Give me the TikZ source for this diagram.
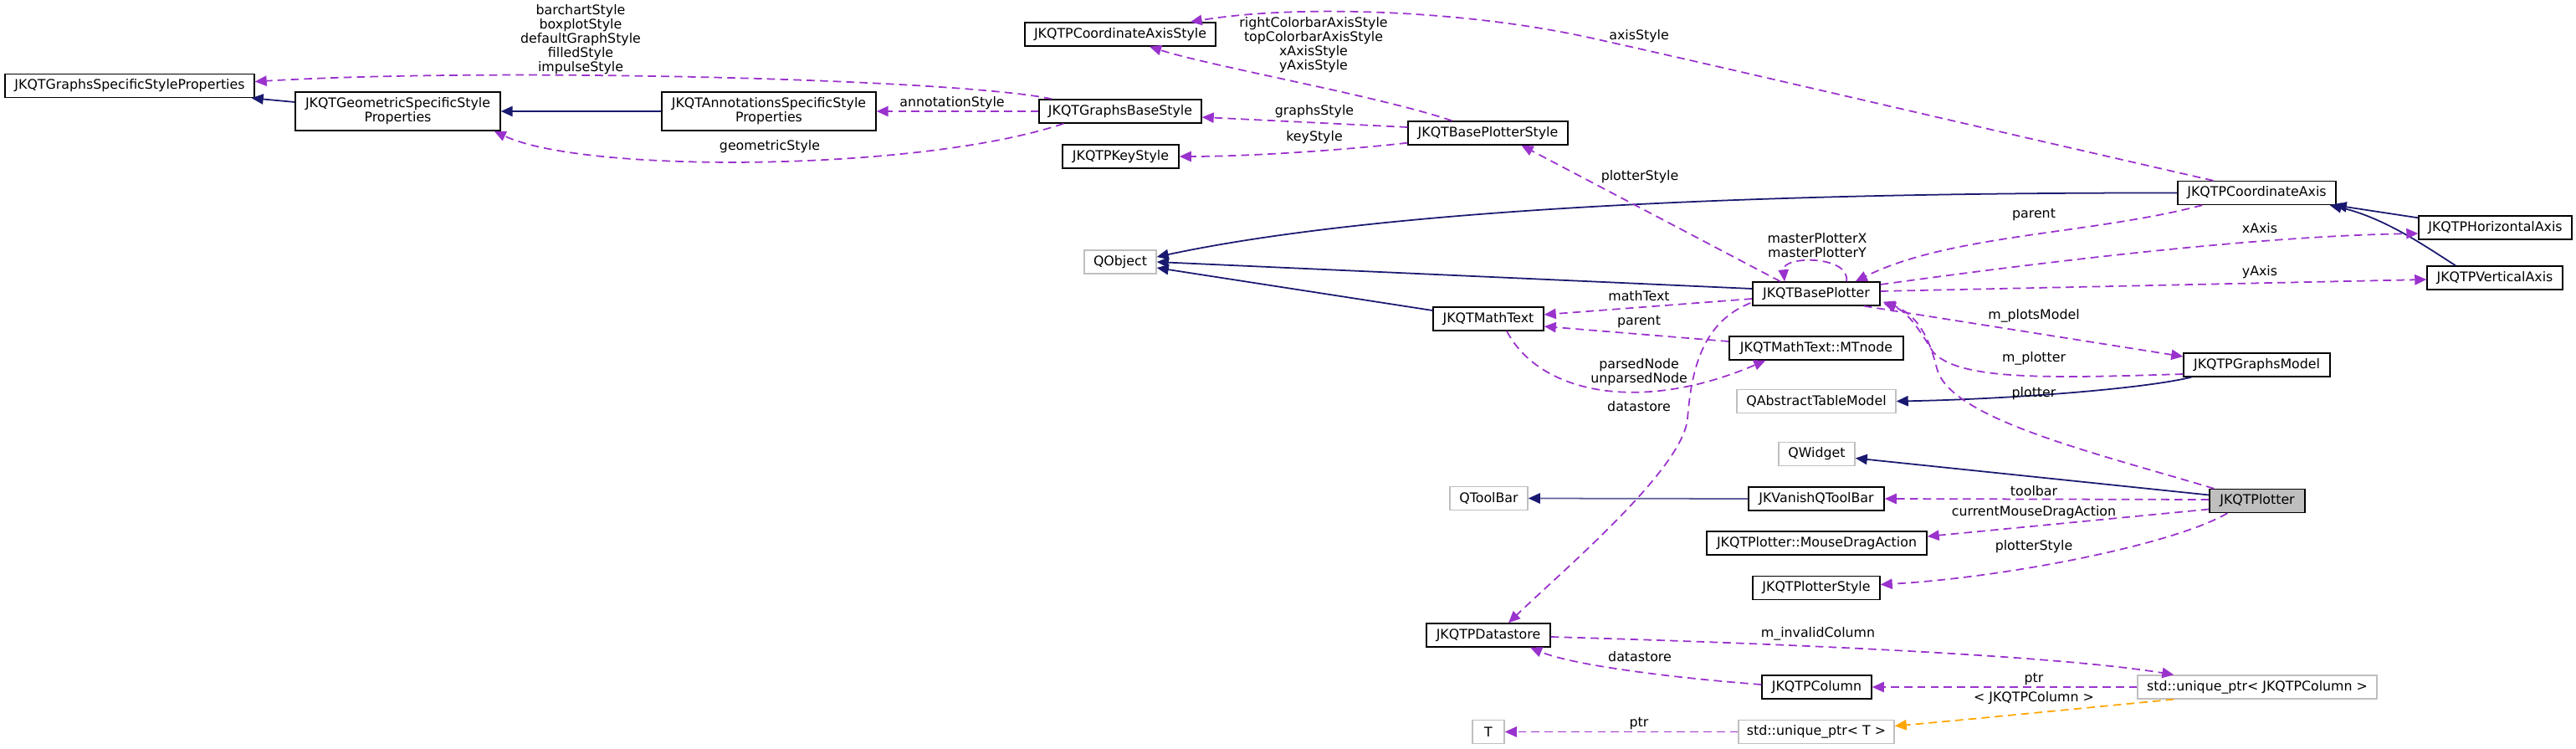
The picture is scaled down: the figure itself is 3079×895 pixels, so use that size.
\documentclass[tikz,border=0pt]{standalone}
\usepackage{fontspec}
\setmainfont{DejaVu Sans}
\usetikzlibrary{arrows.meta,calc}
\definecolor{inhc}{HTML}{191970}
\definecolor{usec}{HTML}{9A32CD}
\definecolor{tmplc}{HTML}{FFA500}
\definecolor{greyb}{HTML}{BFBFBF}
\tikzset{
  cls/.style={draw=black, line width=0.8pt, fill=white, minimum height=0.56cm, inner sep=0pt, font=\fontsize{9}{9.7}\selectfont, align=center},
  ext/.style={cls, draw=greyb},
  lbl/.style={inner sep=0pt, font=\fontsize{9}{9.7}\selectfont, align=center},
  inh/.style={draw=inhc, line width=1pt, -{Triangle[length=8pt,width=7pt]}},
  use/.style={draw=usec, line width=1pt, dash pattern=on 5.5pt off 3.5pt, -{Triangle[length=8pt,width=7pt]}},
  tmpl/.style={use, draw=tmplc},
}
\begin{document}
\begin{tikzpicture}[x=0.02cm,y=-0.02cm]
\useasboundingbox (0,0) rectangle (3079,895);
% classes
\node[cls, minimum width=5.96cm] (gssp) at (155,102.5) {JKQTGraphsSpecificStyleProperties};
\node[cls, minimum width=4.9cm, minimum height=0.92cm] (geo) at (475.5,133) {JKQTGeometricSpecificStyle\\Properties};
\node[cls, minimum width=5.12cm, minimum height=0.92cm] (ann) at (919,133) {JKQTAnnotationsSpecificStyle\\Properties};
\node[cls, minimum width=3.88cm] (gbs) at (1339,133) {JKQTGraphsBaseStyle};
\node[cls, minimum width=4.56cm] (cas) at (1339,41) {JKQTPCoordinateAxisStyle};
\node[cls, minimum width=2.78cm] (key) at (1339.5,187) {JKQTPKeyStyle};
\node[cls, minimum width=3.82cm] (bps) at (1778.5,159) {JKQTBasePlotterStyle};
\node[ext, minimum width=1.72cm] (qobj) at (1339,313) {QObject};
\node[cls, minimum width=2.64cm] (mt) at (1779,381) {JKQTMathText};
\node[cls, minimum width=2.96cm] (ds) at (1779,759) {JKQTPDatastore};
\node[ext, minimum width=1.86cm] (qtb) at (1779.5,595.5) {QToolBar};
\node[ext, minimum width=0.76cm] (T) at (1779,874.5) {T};
\node[cls, minimum width=3.04cm] (bp) at (2171,351) {JKQTBasePlotter};
\node[cls, minimum width=4.16cm] (mtn) at (2171,416) {JKQTMathText::MTnode};
\node[ext, minimum width=3.8cm] (qatm) at (2171,479.5) {QAbstractTableModel};
\node[ext, minimum width=1.82cm] (qw) at (2171.5,542.5) {QWidget};
\node[cls, minimum width=3.24cm] (van) at (2171,596) {JKVanishQToolBar};
\node[cls, minimum width=5.26cm] (mda) at (2171.5,649) {JKQTPlotter::MouseDragAction};
\node[cls, minimum width=3.04cm] (ps) at (2171,702.5) {JKQTPlotterStyle};
\node[cls, minimum width=2.62cm] (col) at (2171.5,821) {JKQTPColumn};
\node[ext, minimum width=3.72cm] (upt) at (2171,874.5) {std::unique\_ptr< T >};
\node[cls, minimum width=3.78cm] (ca) at (2697.5,230.5) {JKQTPCoordinateAxis};
\node[cls, minimum width=3.5cm] (gm) at (2697.5,436) {JKQTPGraphsModel};
\node[cls, fill=greyb, minimum width=2.28cm] (plt) at (2698,598.5) {JKQTPlotter};
\node[ext, minimum width=5.72cm] (upc) at (2698,821) {std::unique\_ptr< JKQTPColumn >};
\node[cls, minimum width=3.66cm] (ha) at (2982.5,272) {JKQTPHorizontalAxis};
\node[cls, minimum width=3.24cm] (va) at (2982,332) {JKQTPVerticalAxis};
% inheritance
\draw[inh] ($(geo.west)+(0,-11)$) -- ($(gssp.south east)+(-4,0)$);
\draw[inh] (ann.west) -- (geo.east);
\draw[inh] (ca.west) .. controls (2100,230) and (1650,250) .. ($(qobj.east)+(0,-6)$);
\draw[inh] ($(bp.west)+(0,-6)$) -- (qobj.east);
\draw[inh] ($(mt.west)+(0,-10)$) -- ($(qobj.east)+(0,7)$);
\draw[inh] ($(gm.south west)+(10,0)$) .. controls (2560,465) and (2400,477) .. (qatm.east);
\draw[inh] ($(plt.west)+(0,-7)$) -- ($(qw.east)+(0,5)$);
\draw[inh, draw=inhc!70, -{Triangle[length=8pt,width=7pt,color=inhc]}] (van.west) -- (qtb.east);
\draw[inh] ($(ha.north west)+(0,3)$) -- ($(ca.south east)+(-2,0)$);
\draw[inh] ($(va.north)+(-47,0)$) .. controls (2900,295) and (2850,260) .. ($(ca.south east)+(-8,0)$);
% usage
\draw[use] ($(bps.west)+(0,-7)$) -- ($(gbs.east)+(0,7)$);
\draw[use] ($(bps.south west)+(0,-3)$) .. controls (1620,178) and (1500,187) .. (key.east);
\draw[use] ($(bps.north)+(-43,0)$) .. controls (1650,115) and (1450,80) .. ($(cas.south)+(35,0)$);
\draw[use] (gbs.west) -- (ann.east);
\draw[use] ($(gbs.north west)+(16,0)$) .. controls (1150,95) and (600,80) .. ($(gssp.east)+(0,-5)$);
\draw[use] ($(gbs.south west)+(30,0)$) .. controls (1100,205) and (700,208) .. ($(geo.south east)+(-8,0)$);
\draw[use] ($(ca.north)+(-52,0)$) .. controls (2300,137) and (2050,78) .. (1900,45) .. controls (1750,12) and (1550,5) .. ($(cas.north east)+(-31,0)$);
\draw[use] ($(bp.north)+(-43,0)$) -- ($(bps.south)+(40,0)$);
\draw[use] ($(bp.north)+(36,0)$) .. controls (2212,305) and (2130,305) .. ($(bp.north)+(-38,0)$);
\draw[use] ($(ca.south west)+(30,0)$) .. controls (2500,280) and (2330,280) .. ($(bp.north east)+(-30,0)$);
\draw[use] ($(bp.east)+(0,-11)$) .. controls (2450,312) and (2700,282) .. ($(ha.west)+(0,7)$);
\draw[use] ($(bp.east)+(0,-3)$) -- ($(va.west)+(0,2)$);
\draw[use] ($(bp.south east)+(-20,0)$) -- ($(gm.west)+(0,-10)$);
\draw[use] ($(gm.west)+(0,11)$) .. controls (2450,452) and (2340,455) .. (2310,420) .. controls (2295,395) and (2280,372) .. ($(bp.south east)+(4,-3)$);
\draw[use] ($(plt.north west)+(6,0)$) .. controls (2500,540) and (2330,500) .. (2315,440) .. controls (2305,400) and (2290,375) .. ($(bp.south east)+(3,-5)$);
\draw[use] ($(bp.west)+(0,6)$) -- ($(mt.east)+(0,-5)$);
\draw[use] ($(mtn.west)+(0,-8)$) -- ($(mt.east)+(0,9)$);
\draw[use] ($(mt.south)+(22,0)$) .. controls (1840,470) and (1960,495) .. ($(mtn.south west)+(44,0)$);
\draw[use] ($(bp.west)+(-2,11)$) .. controls (2035,385) and (2022,440) .. (2017,500) .. controls (2012,560) and (1870,680) .. ($(ds.north)+(24,0)$);
\draw[use] ($(col.west)+(0,-3)$) .. controls (2000,810) and (1880,795) .. ($(ds.south)+(50,0)$);
\draw[use] ($(ds.east)+(0,2)$) .. controls (2100,768) and (2450,782) .. ($(upc.north west)+(44,0)$);
\draw[use] (upc.west) -- (col.east);
\draw[tmpl] ($(upc.south west)+(44,0)$) .. controls (2450,850) and (2350,860) .. ($(upt.east)+(0,-7)$);
\draw[use] (upt.west) -- (T.east);
\draw[use] ($(plt.west)+(0,-1.5)$) -- (van.east);
\draw[use] ($(plt.west)+(0,10)$) -- ($(mda.east)+(0,-8)$);
\draw[use] ($(plt.south west)+(22,0)$) .. controls (2600,650) and (2400,690) .. ($(ps.east)+(0,-4)$);
% labels
\node[lbl] (l1) at (694,47.5) {barchartStyle\\boxplotStyle\\defaultGraphStyle\\filledStyle\\impulseStyle};
\node[lbl] (l2) at (920,175) {geometricStyle};
\node[lbl] (l3) at (1138,123) {annotationStyle};
\node[lbl] (l4) at (1570,53.5) {rightColorbarAxisStyle\\topColorbarAxisStyle\\xAxisStyle\\yAxisStyle};
\node[lbl] (l5) at (1571,133) {graphsStyle};
\node[lbl] (l6) at (1571,164) {keyStyle};
\node[lbl] (l7) at (1959,43) {axisStyle};
\node[lbl] (l8) at (1960,211) {plotterStyle};
\node[lbl] (l9) at (2172,293) {masterPlotterX\\masterPlotterY};
\node[lbl] (l10) at (2431,257) {parent};
\node[lbl] (l11) at (2701,273) {xAxis};
\node[lbl] (l12) at (2701,325) {yAxis};
\node[lbl] (l13) at (1959,354) {mathText};
\node[lbl] (l14) at (1959,385) {parent};
\node[lbl] (l15) at (1959,444.5) {parsedNode\\unparsedNode};
\node[lbl] (l16) at (1959,486) {datastore};
\node[lbl] (l17) at (2431,377) {m\_plotsModel};
\node[lbl] (l18) at (2431,428) {m\_plotter};
\node[lbl] (l19) at (2431,470) {plotter};
\node[lbl] (l20) at (2431,587) {toolbar};
\node[lbl] (l21) at (2431,612) {currentMouseDragAction};
\node[lbl] (l22) at (2431,653) {plotterStyle};
\node[lbl] (l23) at (2173,757) {m\_invalidColumn};
\node[lbl] (l24) at (1960,785) {datastore};
\node[lbl] (l25) at (2431,812) {ptr};
\node[lbl] (l26) at (2431,834) {< JKQTPColumn >};
\node[lbl] (l27) at (1959,865) {ptr};
\end{tikzpicture}
\end{document}
